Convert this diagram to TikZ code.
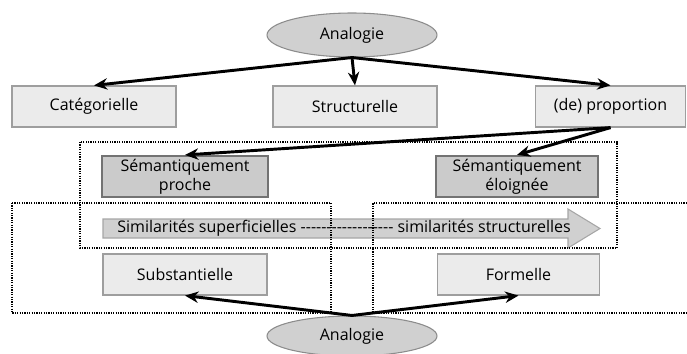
\documentclass[tikz,border=0pt]{standalone}
\usepackage{fontspec}
\setmainfont{Open Sans}
\usetikzlibrary{arrows.meta,shapes.geometric}

\definecolor{fondclair}{HTML}{EBEBEB}
\definecolor{fondsem}{HTML}{CBCBCB}
\definecolor{fondell}{HTML}{D0D0D0}

\tikzset{
  boite/.style={draw=black!38, fill=fondclair, line width=0.9pt, minimum height=30.75pt, inner sep=0pt, align=center},
  semboite/.style={draw=black!55, fill=fondsem, line width=1.6pt, minimum height=30.75pt, inner sep=0pt, align=center, font=\fontsize{12}{14.5}\selectfont},
  analogie/.style={ellipse, draw=black!45, fill=fondell, line width=0.8pt, minimum width=127.5pt, minimum height=33pt, inner sep=0pt},
  fleche/.style={-{Stealth[length=10pt,width=8.5pt]}, line width=2.2pt},
  cadre/.style={line width=1pt, dash pattern=on 0.9pt off 0.9pt},
}

\begin{document}
\begin{tikzpicture}[x=0.75pt, y=-0.75pt, font=\fontsize{12}{14.5}\selectfont]
    \useasboundingbox (0,0) rectangle (687,354);

    % Analogie du haut
    \node[analogie] (anahaut) at (352,35) {Analogie};

    % premiere rangee
    \node[boite, minimum width=123pt] (cat)   at (94,106.5)   {Catégorielle};
    \node[boite, minimum width=123pt] (struc) at (355,106.5)  {Structurelle};
    \node[boite, minimum width=113pt] (prop)  at (610.5,106.5) {(de) proportion};

    \draw[fleche] (anahaut.south) -- (cat.north);
    \draw[fleche] (anahaut.south) -- (struc.north);
    \draw[fleche] (anahaut.south) -- (prop.north);

    % fleche des similarites
    \draw[draw=black!35, fill=fondsem!90!white, line width=0.8pt]
        (103,219) -- (568,219) -- (568,209) -- (600,228.5) -- (568,248) -- (568,238) -- (103,238) -- cycle;
    \node (simtexte) at (344,228.5) {Similarités superficielles -{}-{}-{}-{}-{}-{}-{}-{}-{}-{}-{}-{}-{}-{}-{}-{}-{}- similarités structurelles};

    % cadres pointilles
    \draw[cadre] (80,142) rectangle (617,248);
    \draw[cadre] (12,203) rectangle (331,313);
    \draw[cadre] (687,203) -- (373,203) -- (373,313) -- (687,313);

    % semantiquement
    \node[semboite, minimum width=124.5pt] (semproche) at (185,176.5) {Sémantiquement\\proche};
    \node[semboite, minimum width=121.5pt] (semloin)   at (517,176.5) {Sémantiquement\\éloignée};

    \draw[fleche] (prop.south) -- (semproche.north);
    \draw[fleche] (prop.south) -- (semloin.north);

    % rangee du bas
    \node[boite, minimum width=123pt] (subst)  at (185,274.5)   {Substantielle};
    \node[boite, minimum width=122pt] (formel) at (518.5,274.5) {Formelle};

    % Analogie du bas
    \node[analogie, minimum height=30pt] (anabas) at (352,336) {Analogie};

    \draw[fleche] (anabas.north) -- (subst.south);
    \draw[fleche] (anabas.north) -- (formel.south);
\end{tikzpicture}
\end{document}
